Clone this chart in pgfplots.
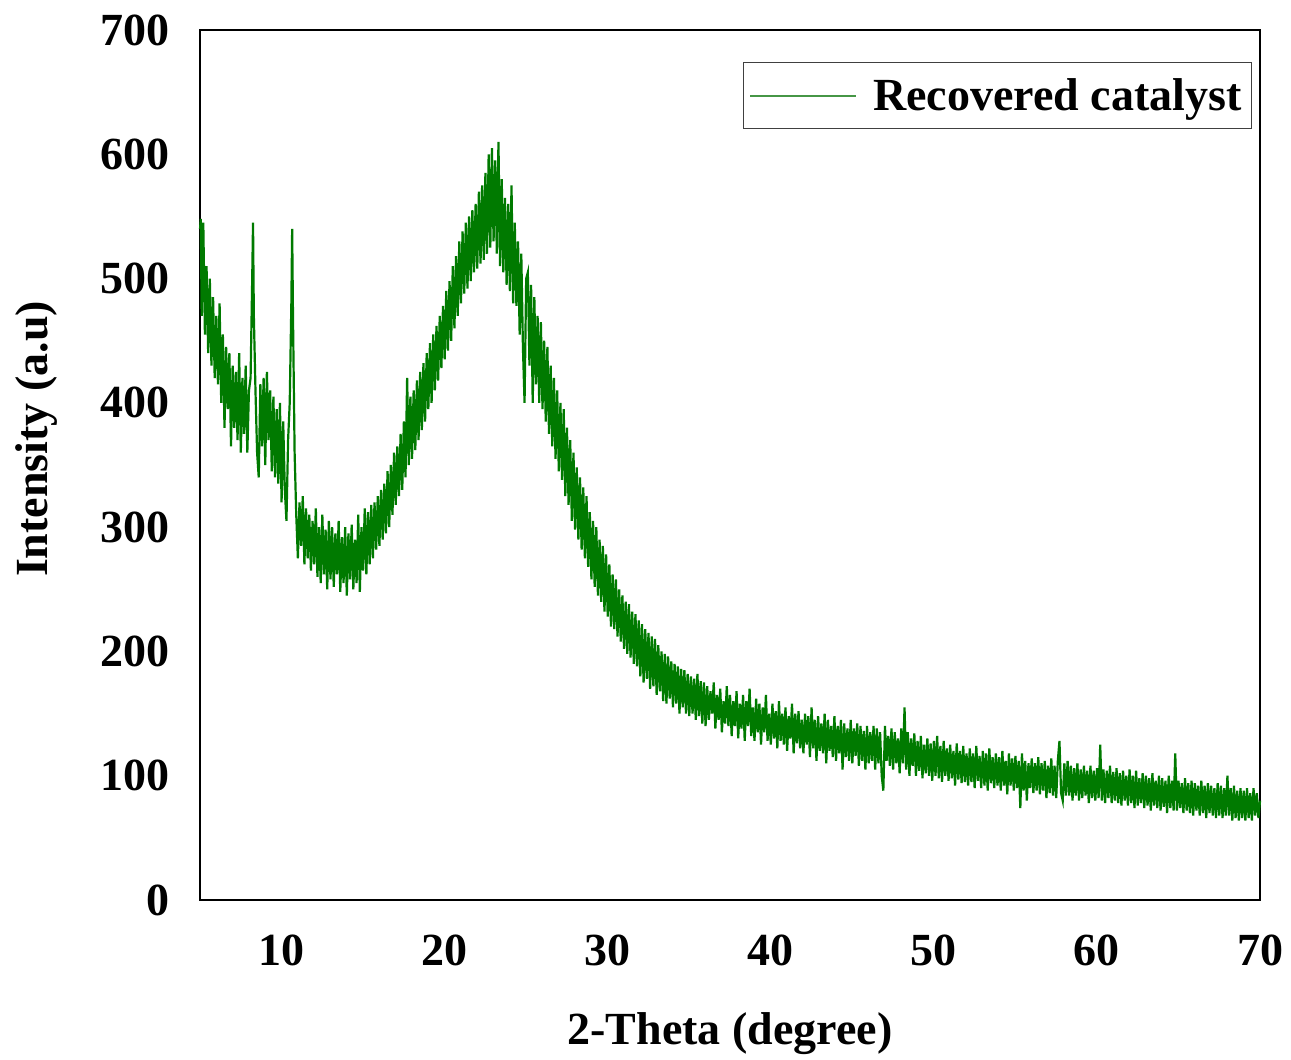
\documentclass[border=0pt]{standalone}
\usepackage{fontspec}
\setmainfont{Liberation Serif}
\usepackage{pgfplots}
\pgfplotsset{compat=1.18}
\definecolor{xrdgreen}{RGB}{0,122,0}
\definecolor{leggreen}{RGB}{70,150,70}
\begin{document}
\begin{tikzpicture}
\begin{axis}[
  scale only axis, width=530pt, height=435pt,
  xmin=5, xmax=70, ymin=0, ymax=700,
  xtick={10,20,...,70}, ytick={0,100,...,700},
  major tick length=0pt,
  axis line style={line width=1.2pt},
  clip=false,
  /pgf/number format/assume math mode=true,
  ticklabel style={font=\fontsize{23}{27}\selectfont\bfseries},
  yticklabel style={anchor=east, inner sep=0pt, xshift=-15pt},
  xticklabel style={anchor=north, inner sep=0pt, yshift=-17pt},
  xlabel={2-Theta (degree)},
  ylabel={Intensity (a.u)},
  label style={font=\fontsize{23}{27}\selectfont\bfseries, inner sep=0pt},
  xlabel style={at={(axis description cs:0.5,0)}, anchor=north, yshift=-56pt},
  ylabel style={at={(axis description cs:0,0.53)}, anchor=south, yshift=71pt},
  legend style={at={(rel axis cs:1,1)}, anchor=north east, xshift=-4pt, yshift=-16pt,
    draw=black!75, line width=0.6pt, inner xsep=3pt, inner ysep=5.8pt,
    font=\fontsize{23}{27}\selectfont\bfseries, cells={anchor=west}},
  legend image code/.code={\draw[leggreen, line width=0.9pt] (0pt,0pt) -- (53pt,0pt); \path (59pt,0pt);},
]
\addplot[xrdgreen, line width=1.1pt] coordinates {
(5.0,540)(5.05,548)(5.1,470)(5.2,545)(5.3,455)(5.4,510)(5.5,440)(5.6,500)(5.7,430)(5.8,485)(5.9,420)
(6.0,470)(6.1,415)(6.2,480)(6.3,400)(6.4,455)(6.5,380)(6.6,445)(6.7,395)(6.8,440)(6.9,365)
(7.0,430)(7.1,380)(7.2,425)(7.3,370)(7.4,440)(7.5,360)(7.6,420)(7.7,375)(7.8,430)(7.9,360)
(8.0,410)(8.1,420)(8.2,500)(8.25,545)(8.3,470)(8.4,410)(8.5,360)(8.6,340)(8.7,415)(8.8,365)(8.9,420)
(9.0,350)(9.1,425)(9.2,370)(9.3,410)(9.4,345)(9.5,405)(9.6,340)(9.7,395)(9.8,335)(9.9,400)
(10.0,320)(10.1,385)(10.2,330)(10.3,305)(10.4,370)(10.5,400)(10.6,480)(10.65,540)(10.7,470)(10.8,360)(10.9,310)
(11.0,275)(11.1,320)(11.2,285)(11.3,325)(11.4,270)(11.5,315)(11.6,275)(11.7,310)(11.8,265)(11.9,305)
(12.0,270)(12.1,315)(12.2,260)(12.3,300)(12.4,255)(12.5,310)(12.6,262)(12.7,298)(12.8,250)(12.9,305)
(13.0,258)(13.1,300)(13.2,252)(13.3,295)(13.4,262)(13.5,305)(13.6,248)(13.7,292)(13.8,255)(13.9,300)
(14.0,245)(14.1,295)(14.2,258)(14.3,302)(14.4,250)(14.5,290)(14.6,255)(14.7,310)(14.8,248)(14.9,300)
(15.0,265)(15.1,315)(15.2,262)(15.3,312)(15.4,270)(15.5,318)(15.6,275)(15.7,320)(15.8,282)(15.9,325)
(16.0,285)(16.1,330)(16.2,290)(16.3,335)(16.4,295)(16.5,345)(16.6,300)(16.7,350)(16.8,310)(16.9,360)
(17.0,318)(17.1,365)(17.2,325)(17.3,375)(17.4,330)(17.5,385)(17.6,340)(17.7,420)(17.8,350)(17.9,405)
(18.0,355)(18.1,410)(18.2,362)(18.3,418)(18.4,370)(18.5,425)(18.6,378)(18.7,432)(18.8,385)(18.9,440)
(19.0,395)(19.1,448)(19.2,400)(19.3,455)(19.4,410)(19.5,462)(19.6,418)(19.7,470)(19.8,428)(19.9,478)
(20.0,435)(20.1,490)(20.2,442)(20.3,498)(20.4,450)(20.5,510)(20.6,460)(20.7,518)(20.8,470)(20.9,530)
(21.0,480)(21.1,538)(21.2,488)(21.3,545)(21.4,492)(21.5,550)(21.6,498)(21.7,555)(21.8,505)(21.9,560)
(22.0,508)(22.1,570)(22.2,512)(22.3,575)(22.4,515)(22.5,585)(22.6,520)(22.7,600)(22.8,525)(22.9,605)
(23.0,530)(23.1,595)(23.2,520)(23.3,610)(23.4,510)(23.5,580)(23.6,505)(23.7,565)(23.8,495)(23.9,560)
(24.0,490)(24.1,575)(24.2,480)(24.3,545)(24.4,478)(24.5,530)(24.6,455)(24.7,520)(24.8,445)(24.9,400)
(25.0,500)(25.1,505)(25.2,430)(25.3,495)(25.4,400)(25.5,485)(25.6,415)(25.7,470)(25.8,400)(25.9,465)
(26.0,395)(26.1,450)(26.2,385)(26.3,445)(26.4,375)(26.5,430)(26.6,365)(26.7,420)(26.8,355)(26.9,410)
(27.0,345)(27.1,400)(27.2,338)(27.3,395)(27.4,325)(27.5,380)(27.6,318)(27.7,370)(27.8,305)(27.9,360)
(28.0,298)(28.1,348)(28.2,290)(28.3,340)(28.4,282)(28.5,332)(28.6,275)(28.7,325)(28.8,268)(28.9,312)
(29.0,258)(29.1,305)(29.2,252)(29.3,300)(29.4,245)(29.5,290)(29.6,240)(29.7,285)(29.8,232)(29.9,278)
(30.0,228)(30.1,270)(30.2,220)(30.3,262)(30.4,218)(30.5,258)(30.6,212)(30.7,250)(30.8,208)(30.9,245)
(31.0,202)(31.1,240)(31.2,198)(31.3,238)(31.4,195)(31.5,232)(31.6,190)(31.7,230)(31.8,188)(31.9,225)
(32.0,180)(32.1,222)(32.2,175)(32.3,218)(32.4,178)(32.5,215)(32.6,170)(32.7,212)(32.8,172)(32.9,210)
(33.0,165)(33.1,205)(33.2,168)(33.3,200)(33.4,160)(33.5,198)(33.6,158)(33.7,196)(33.8,162)(33.9,192)
(34.0,155)(34.1,190)(34.2,158)(34.3,188)(34.4,150)(34.5,186)(34.6,155)(34.7,185)(34.8,150)(34.9,182)
(35.0,148)(35.1,180)(35.2,150)(35.3,178)(35.4,145)(35.5,182)(35.6,148)(35.7,176)(35.8,142)(35.9,175)
(36.0,140)(36.1,172)(36.2,145)(36.3,168)(36.4,150)(36.5,175)(36.6,138)(36.7,165)(36.8,145)(36.9,170)
(37.0,135)(37.1,160)(37.2,142)(37.3,172)(37.4,140)(37.5,165)(37.6,132)(37.7,160)(37.8,140)(37.9,168)
(38.0,130)(38.1,158)(38.2,138)(38.3,165)(38.4,128)(38.5,160)(38.6,140)(38.7,170)(38.8,132)(38.9,155)
(39.0,128)(39.1,162)(39.2,135)(39.3,158)(39.4,125)(39.5,155)(39.6,135)(39.7,165)(39.8,128)(39.9,150)
(40.0,125)(40.1,158)(40.2,130)(40.3,152)(40.4,122)(40.5,160)(40.6,128)(40.7,150)(40.8,125)(40.9,155)
(41.0,120)(41.1,148)(41.2,130)(41.3,158)(41.4,118)(41.5,150)(41.6,126)(41.7,152)(41.8,122)(41.9,145)
(42.0,118)(42.1,150)(42.2,125)(42.3,148)(42.4,115)(42.5,155)(42.6,122)(42.7,145)(42.8,112)(42.9,148)
(43.0,120)(43.1,142)(43.2,118)(43.3,150)(43.4,110)(43.5,145)(43.6,120)(43.7,140)(43.8,115)(43.9,148)
(44.0,112)(44.1,140)(44.2,118)(44.3,145)(44.4,105)(44.5,142)(44.6,115)(44.7,138)(44.8,112)(44.9,145)
(45.0,110)(45.1,138)(45.2,116)(45.3,142)(45.4,108)(45.5,140)(45.6,112)(45.7,136)(45.8,105)(45.9,140)
(46.0,110)(46.1,135)(46.2,112)(46.3,140)(46.4,105)(46.5,138)(46.6,110)(46.7,135)(46.8,100)(46.9,88)
(47.0,140)(47.1,112)(47.2,132)(47.3,108)(47.4,138)(47.5,105)(47.6,135)(47.7,110)(47.8,130)(47.9,102)
(48.0,138)(48.1,110)(48.2,155)(48.3,105)(48.4,135)(48.5,100)(48.6,130)(48.7,108)(48.8,134)(48.9,100)
(49.0,128)(49.1,104)(49.2,132)(49.3,98)(49.4,125)(49.5,102)(49.6,130)(49.7,100)(49.8,126)(49.9,96)
(50.0,128)(50.1,100)(50.2,132)(50.3,98)(50.4,124)(50.5,95)(50.6,128)(50.7,100)(50.8,122)(50.9,96)
(51.0,125)(51.1,98)(51.2,120)(51.3,92)(51.4,126)(51.5,97)(51.6,120)(51.7,94)(51.8,124)(51.9,95)
(52.0,118)(52.1,92)(52.2,122)(52.3,95)(52.4,118)(52.5,90)(52.6,124)(52.7,96)(52.8,116)(52.9,90)
(53.0,120)(53.1,92)(53.2,118)(53.3,88)(53.4,122)(53.5,94)(53.6,115)(53.7,90)(53.8,118)(53.9,92)
(54.0,115)(54.1,88)(54.2,120)(54.3,92)(54.4,112)(54.5,85)(54.6,118)(54.7,92)(54.8,114)(54.9,88)
(55.0,116)(55.1,90)(55.2,112)(55.3,74)(55.4,118)(55.5,88)(55.6,112)(55.7,80)(55.8,110)(55.9,90)
(56.0,114)(56.1,86)(56.2,110)(56.3,88)(56.4,115)(56.5,85)(56.6,110)(56.7,88)(56.8,112)(56.9,82)
(57.0,108)(57.1,86)(57.2,114)(57.3,84)(57.4,108)(57.5,82)(57.6,112)(57.7,128)(57.8,86)(57.9,80)
(58.0,110)(58.1,84)(58.2,112)(58.3,84)(58.4,108)(58.5,80)(58.6,106)(58.7,84)(58.8,110)(58.9,80)
(59.0,105)(59.1,82)(59.2,108)(59.3,84)(59.4,104)(59.5,78)(59.6,108)(59.7,82)(59.8,104)(59.9,80)
(60.0,106)(60.1,82)(60.2,125)(60.3,80)(60.4,105)(60.5,78)(60.6,104)(60.7,82)(60.8,108)(60.9,78)
(61.0,103)(61.1,80)(61.2,106)(61.3,78)(61.4,102)(61.5,76)(61.6,104)(61.7,80)(61.8,100)(61.9,76)
(62.0,105)(62.1,78)(62.2,100)(62.3,74)(62.4,104)(62.5,76)(62.6,98)(62.7,78)(62.8,102)(62.9,74)
(63.0,100)(63.1,76)(63.2,98)(63.3,72)(63.4,102)(63.5,76)(63.6,96)(63.7,74)(63.8,100)(63.9,72)
(64.0,98)(64.1,75)(64.2,96)(64.3,70)(64.4,100)(64.5,74)(64.6,96)(64.7,72)(64.8,118)(64.9,72)
(65.0,96)(65.1,74)(65.2,94)(65.3,70)(65.4,98)(65.5,72)(65.6,94)(65.7,70)(65.8,96)(65.9,68)
(66.0,94)(66.1,72)(66.2,92)(66.3,68)(66.4,96)(66.5,70)(66.6,92)(66.7,66)(66.8,94)(66.9,70)
(67.0,92)(67.1,68)(67.2,90)(67.3,66)(67.4,94)(67.5,68)(67.6,92)(67.7,66)(67.8,90)(67.9,68)
(68.0,100)(68.1,68)(68.2,90)(68.3,64)(68.4,92)(68.5,66)(68.6,88)(68.7,64)(68.8,90)(68.9,66)
(69.0,88)(69.1,64)(69.2,90)(69.3,66)(69.4,86)(69.5,64)(69.6,90)(69.7,68)(69.8,86)(69.9,66)
(70.0,80)
};
\addlegendentry{Recovered catalyst}
\path (rel axis cs:-0.1887,-0.1828) rectangle (rel axis cs:1.0292,1.0345);
\end{axis}
\end{tikzpicture}
\end{document}
